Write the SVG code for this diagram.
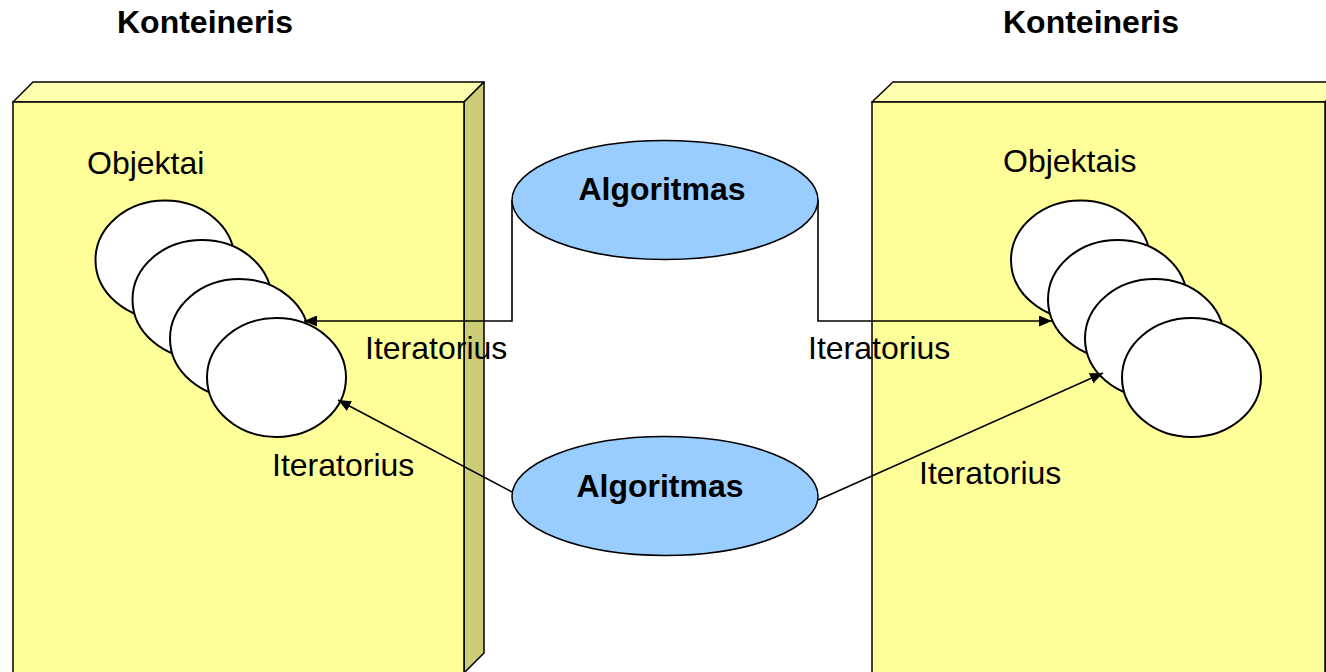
<svg xmlns="http://www.w3.org/2000/svg" width="1326" height="672" viewBox="0 0 1326 672">
  <style>
    .front { fill: #FFFF99; stroke: #000; stroke-width: 1.5; }
    .top { fill: #FFFFB0; stroke: #000; stroke-width: 1.5; stroke-linejoin: round; }
    .side { fill: #CCCC77; stroke: #000; stroke-width: 1.5; stroke-linejoin: round; }
    .obj { fill: #FFFFFF; stroke: #000; stroke-width: 2; }
    .algo { fill: #99CCFF; stroke: #000; stroke-width: 1.5; }
    .conn { fill: none; stroke: #000; stroke-width: 1.6; }
    .lbl { font-family: "Liberation Sans", Arial, sans-serif; font-size: 32px; fill: #000; }
    .bold { font-weight: bold; }
  </style>
  <defs>
    <marker id="arrow" viewBox="0 0 13 11" refX="13" refY="5.5" markerWidth="13" markerHeight="11" markerUnits="userSpaceOnUse" orient="auto">
      <path d="M0,0 L13,5.5 L0,11 Z" fill="#000"/>
    </marker>
  </defs>

  <rect width="1326" height="672" fill="#FFFFFF"/>

  <!-- left container -->
  <g id="container-left">
    <polygon class="top" points="13,102 33,82 484,82 464,102"/>
    <polygon class="side" points="464,102 484,82 484,653 464,673"/>
    <rect class="front" x="13" y="102" width="451" height="575"/>
    <text class="lbl bold" x="205" y="33" text-anchor="middle">Konteineris</text>
    <text class="lbl" x="87" y="174">Objektai</text>
  </g>

  <!-- right container -->
  <g id="container-right">
    <polygon class="top" points="872,102 893,82 1346,82 1325,102"/>
    <polygon class="side" points="1325,102 1346,82 1346,653 1325,673"/>
    <rect class="front" x="872" y="102" width="453" height="575"/>
    <text class="lbl bold" x="1091" y="33" text-anchor="middle">Konteineris</text>
    <text class="lbl" x="1003" y="172">Objektais</text>
  </g>

  <!-- objects in the left container -->
  <g id="objects-left">
    <ellipse class="obj" cx="165" cy="260" rx="69.5" ry="59.5"/>
    <ellipse class="obj" cx="202" cy="299.5" rx="69.5" ry="59.5"/>
    <ellipse class="obj" cx="239.5" cy="338.5" rx="69.5" ry="59.5"/>
    <ellipse class="obj" cx="276.5" cy="377.5" rx="69.5" ry="59.5"/>
  </g>

  <!-- objects in the right container -->
  <g id="objects-right">
    <ellipse class="obj" cx="1080.5" cy="260" rx="69.5" ry="59.5"/>
    <ellipse class="obj" cx="1117.5" cy="299.5" rx="69.5" ry="59.5"/>
    <ellipse class="obj" cx="1154.5" cy="338.5" rx="69.5" ry="59.5"/>
    <ellipse class="obj" cx="1191.5" cy="377.5" rx="69.5" ry="59.5"/>
  </g>

  <!-- iterator connectors -->
  <g id="connectors">
    <polyline class="conn" points="512,200 512,321 304,321" marker-end="url(#arrow)"/>
    <polyline class="conn" points="818,200 818,321 1052,321" marker-end="url(#arrow)"/>
    <line class="conn" x1="512" y1="492" x2="338" y2="400" marker-end="url(#arrow)"/>
    <line class="conn" x1="818" y1="500" x2="1103" y2="373" marker-end="url(#arrow)"/>
    <text class="lbl" x="365" y="359">Iteratorius</text>
    <text class="lbl" x="808" y="359">Iteratorius</text>
    <text class="lbl" x="272" y="476">Iteratorius</text>
    <text class="lbl" x="919" y="484">Iteratorius</text>
  </g>

  <!-- algorithms -->
  <g id="algorithm-top">
    <ellipse class="algo" cx="665" cy="200" rx="153" ry="59.5"/>
    <text class="lbl bold" x="662" y="200" text-anchor="middle">Algoritmas</text>
  </g>
  <g id="algorithm-bottom">
    <ellipse class="algo" cx="665" cy="496" rx="153" ry="59.5"/>
    <text class="lbl bold" x="660" y="497" text-anchor="middle">Algoritmas</text>
  </g>
</svg>
